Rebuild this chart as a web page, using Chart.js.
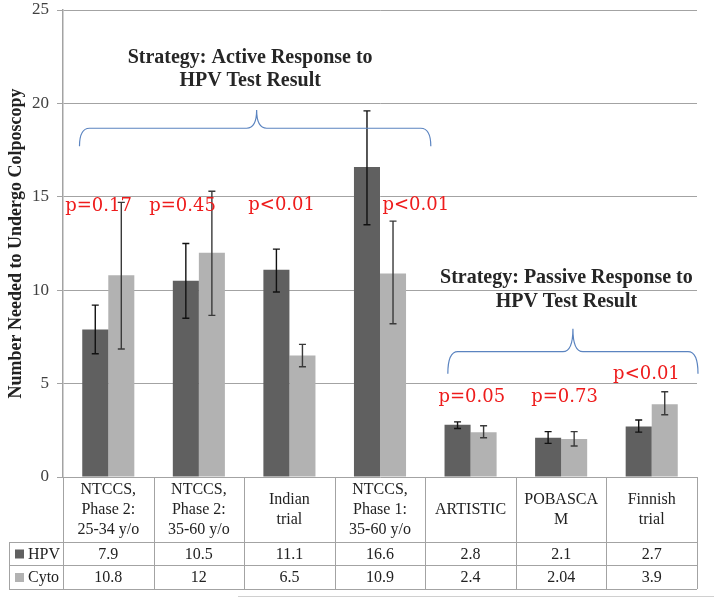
<!DOCTYPE html>
<html>
<head>
<meta charset="utf-8">
<script src="https://cdn.jsdelivr.net/npm/chart.js@4.4.1/dist/chart.umd.min.js"></script>
<style>
  body { margin: 0; background: #fff; }
  #wrap { width: 714px; height: 598px; }
</style>
</head>
<body>
<div id="wrap"><canvas id="chart" width="714" height="598"></canvas></div>
<script>
// trial names, one line per entry (as in the table header)
const trials = [
    ["NTCCS,", "Phase 2:", "25-34 y/o"],
    ["NTCCS,", "Phase 2:", "35-60 y/o"],
    ["Indian", "trial"],
    ["NTCCS,", "Phase 1:", "35-60 y/o"],
    ["ARTISTIC"],
    ["POBASCA", "M"],
    ["Finnish", "trial"]
];

const hpvValues = [7.9, 10.5, 11.1, 16.6, 2.8, 2.1, 2.7];
const cytoValues = [10.8, 12, 6.5, 10.9, 2.4, 2.04, 3.9];

// error bar ends
const hpvLow = [6.6, 8.5, 9.9, 13.5, 2.6, 1.8, 2.4];
const hpvHigh = [9.2, 12.5, 12.2, 19.6, 2.95, 2.43, 3.05];
const cytoLow = [6.85, 8.65, 5.9, 8.2, 2.1, 1.66, 3.33];
const cytoHigh = [14.7, 15.3, 7.1, 13.7, 2.74, 2.43, 4.56];

const yTicks = [0, 5, 10, 15, 20, 25];

// p-values: text, category position, value position
const pLabels = [
    { text: "p=0.17", x: -0.108, y: 14.5 },
    { text: "p=0.45", x: 0.82, y: 14.5 },
    { text: "p<0.01", x: 1.914, y: 14.55 },
    { text: "p<0.01", x: 3.395, y: 14.55 },
    { text: "p=0.05", x: 4.014, y: 4.24 },
    { text: "p=0.73", x: 5.038, y: 4.24 },
    { text: "p<0.01", x: 5.942, y: 5.47 }
];

const strategyNotes = [
    { lines: ["Strategy: Active Response to", "HPV Test Result"], x: 1.566, y: [22.42, 21.2] },
    { lines: ["Strategy: Passive Response to", "HPV Test Result"], x: 5.058, y: [10.67, 9.4] }
];

// braces: left / peak / right in category units, end / flat / peak in value units
const braces = [
    { left: -0.318, mid: 1.638, right: 3.561, end: 17.7, flat: 18.67, peak: 19.64 },
    { left: 3.749, mid: 5.13, right: 6.511, end: 5.53, flat: 6.71, peak: 7.94 }
];

const HPV_COLOR = "#606060";
const CYTO_COLOR = "#b2b2b2";
const GRID = "#a3a3a3";

function catPx(chart, v) {
    const a = chart.chartArea;
    const cw = (a.right - a.left) / trials.length;
    return a.left + (v + 0.5) * cw;
}

const extrasPlugin = {
    id: "extras",
    afterDatasetsDraw(chart) {
        const ctx = chart.ctx;
        const y = chart.scales.y;

        // error bars
        const errs = [[hpvLow, hpvHigh, "#111"], [cytoLow, cytoHigh, "#3a3a3a"]];
        errs.forEach((e, di) => {
            const meta = chart.getDatasetMeta(di);
            meta.data.forEach((bar, i) => {
                const x = bar.x;
                const top = y.getPixelForValue(e[1][i]);
                const bot = y.getPixelForValue(e[0][i]);
                ctx.save();
                ctx.strokeStyle = e[2];
                ctx.lineWidth = 1.4;
                ctx.beginPath();
                ctx.moveTo(x, top); ctx.lineTo(x, bot);
                ctx.moveTo(x - 3.5, top); ctx.lineTo(x + 3.5, top);
                ctx.moveTo(x - 3.5, bot); ctx.lineTo(x + 3.5, bot);
                ctx.stroke();
                ctx.restore();
            });
        });

        // braces
        ctx.save();
        ctx.strokeStyle = "#5b84c0";
        ctx.lineWidth = 1.2;
        braces.forEach(b => {
            const x1 = catPx(chart, b.left), xm = catPx(chart, b.mid), x2 = catPx(chart, b.right);
            const ye = y.getPixelForValue(b.end), yf = y.getPixelForValue(b.flat), yp = y.getPixelForValue(b.peak);
            const r = 10;
            ctx.beginPath();
            ctx.moveTo(x1, ye);
            ctx.quadraticCurveTo(x1, yf, x1 + r, yf);
            ctx.lineTo(xm - r, yf);
            ctx.quadraticCurveTo(xm, yf, xm, yp);
            ctx.quadraticCurveTo(xm, yf, xm + r, yf);
            ctx.lineTo(x2 - r, yf);
            ctx.quadraticCurveTo(x2, yf, x2, ye);
            ctx.stroke();
        });
        ctx.restore();

        // strategy notes
        ctx.save();
        ctx.fillStyle = "#262626";
        ctx.font = "bold 20px 'Liberation Serif'";
        ctx.textAlign = "center";
        ctx.textBaseline = "middle";
        strategyNotes.forEach(n => {
            n.lines.forEach((t, k) => ctx.fillText(t, catPx(chart, n.x), y.getPixelForValue(n.y[k])));
        });
        ctx.restore();

        // p-values
        ctx.save();
        ctx.fillStyle = "#ee1c1c";
        ctx.font = "18px 'DejaVu Serif'";
        ctx.textAlign = "center";
        ctx.textBaseline = "middle";
        pLabels.forEach(p => ctx.fillText(p.text, catPx(chart, p.x), y.getPixelForValue(p.y)));
        ctx.restore();
    },
    afterDraw(chart) {
        // data table under the plot
        const ctx = chart.ctx;
        const a = chart.chartArea;
        const n = trials.length;
        const cw = (a.right - a.left) / n;
        const xs = chart.scales.x;
        const tableLeft = 9;
        const headBottom = a.bottom + 65;
        const row1Bottom = headBottom + 23;
        const row2Bottom = row1Bottom + 24;

        ctx.save();
        ctx.strokeStyle = GRID;
        ctx.lineWidth = 1;
        ctx.beginPath();
        for (let i = 0; i <= n; i++) {
            const x = Math.round(a.left + i * cw) + 0.5;
            ctx.moveTo(x, a.bottom); ctx.lineTo(x, row2Bottom);
        }
        ctx.moveTo(tableLeft + 0.5, headBottom); ctx.lineTo(tableLeft + 0.5, row2Bottom);
        [headBottom, row1Bottom, row2Bottom].forEach(yy => {
            ctx.moveTo(tableLeft, yy + 0.5); ctx.lineTo(a.right, yy + 0.5);
        });
        ctx.stroke();

        // stray page rule at the very bottom
        ctx.strokeStyle = "#d0d0d0";
        ctx.beginPath();
        ctx.moveTo(238, 596.5); ctx.lineTo(714, 596.5);
        ctx.stroke();

        ctx.fillStyle = "#222";
        ctx.font = "16px 'Liberation Serif'";
        ctx.textAlign = "center";
        ctx.textBaseline = "middle";
        const headMid = (a.bottom + headBottom) / 2;
        trials.forEach((lines, i) => {
            const cx = xs.getPixelForValue(i);
            const start = headMid - (lines.length - 1) * 10;
            lines.forEach((t, k) => ctx.fillText(t, cx, start + k * 20));
            ctx.fillText(String(hpvValues[i]), cx, (headBottom + row1Bottom) / 2 + 1);
            ctx.fillText(String(cytoValues[i]), cx, (row1Bottom + row2Bottom) / 2 + 1);
        });

        // legend keys in the table
        ctx.textAlign = "left";
        const rows = [["HPV", HPV_COLOR, (headBottom + row1Bottom) / 2], ["Cyto", CYTO_COLOR, (row1Bottom + row2Bottom) / 2]];
        rows.forEach(r => {
            ctx.fillStyle = r[1];
            ctx.fillRect(15, r[2] - 4, 9, 9);
            ctx.fillStyle = "#222";
            ctx.fillText(r[0], 28, r[2] + 1);
        });
        ctx.restore();
    }
};

new Chart(document.getElementById("chart"), {
    type: "bar",
    data: {
        labels: trials,
        datasets: [{
            label: "HPV",
            data: hpvValues,
            backgroundColor: HPV_COLOR,
            barPercentage: 1,
            categoryPercentage: 0.575
        }, {
            label: "Cyto",
            data: cytoValues,
            backgroundColor: CYTO_COLOR,
            barPercentage: 1,
            categoryPercentage: 0.575
        }]
    },
    options: {
        responsive: false,
        animation: false,
        layout: { padding: { left: 0, right: 17, top: 1, bottom: 121 } },
        plugins: {
            legend: { display: false },
            tooltip: { enabled: false }
        },
        scales: {
            x: { display: false },
            y: {
                min: 0,
                max: 25,
                afterBuildTicks: s => { s.ticks = yTicks.map(v => ({ value: v })); },
                afterFit: s => { s.width = 63; s.paddingTop = 10; },
                ticks: {
                    font: { family: "Liberation Serif", size: 17 },
                    color: "#404040",
                    padding: 8
                },
                grid: { color: GRID, tickLength: 6 },
                border: { color: GRID, width: 1.5 },
                title: {
                    display: true,
                    text: "Number Needed to Undergo Colposcopy",
                    font: { family: "Liberation Serif", size: 18, weight: "bold" },
                    color: "#222",
                    padding: { top: 6, bottom: 0 }
                }
            }
        }
    },
    plugins: [extrasPlugin]
});
</script>
</body>
</html>
